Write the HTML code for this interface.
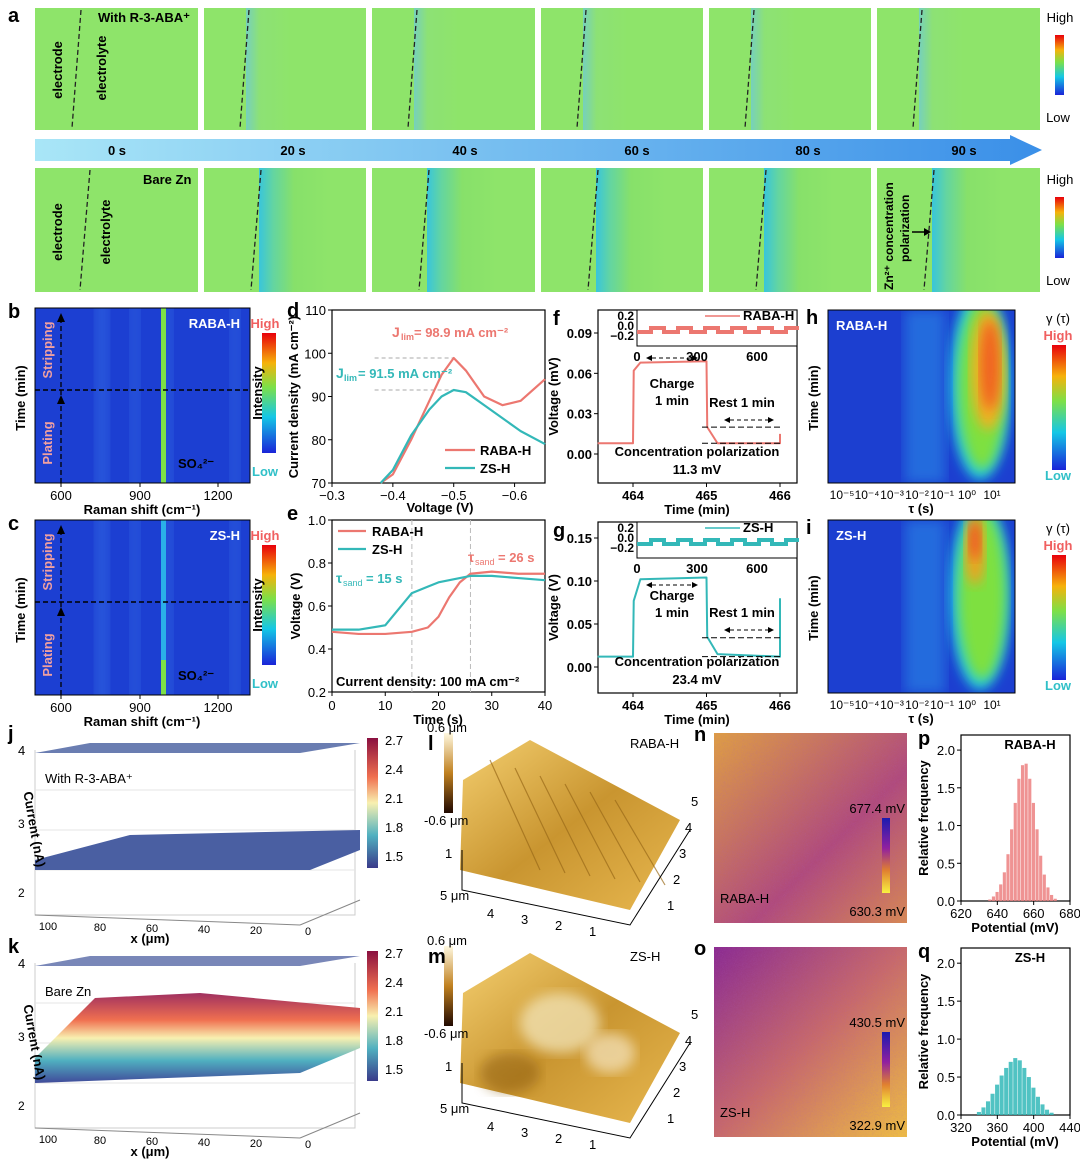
<!DOCTYPE html>
<html><head><meta charset="utf-8"><style>
body{margin:0;background:#fff;font-family:"Liberation Sans",sans-serif}
svg text{font-family:"Liberation Sans","Noto Sans CJK SC",sans-serif}
</style></head><body>
<svg id="fig" width="1080" height="1159" viewBox="0 0 1080 1159" xmlns="http://www.w3.org/2000/svg">
<defs>
<linearGradient id="arrowg" x1="0" x2="1"><stop offset="0" stop-color="#a9e6f7"/><stop offset="1" stop-color="#3a8fe8"/></linearGradient>
<linearGradient id="cb1" x1="0" y1="0" x2="0" y2="1"><stop offset="0" stop-color="#e8000b"/><stop offset=".25" stop-color="#f6b20a"/><stop offset=".45" stop-color="#7de048"/><stop offset=".7" stop-color="#14c7e6"/><stop offset="1" stop-color="#1a24d8"/></linearGradient>
<linearGradient id="tileT" x1="0" x2="1"><stop offset="0" stop-color="#6cc8e0"/><stop offset=".3" stop-color="#8ce07a"/><stop offset="1" stop-color="#8ee46a"/></linearGradient>
<linearGradient id="tileB" x1="0" x2="1"><stop offset="0" stop-color="#2fc2e8"/><stop offset=".2" stop-color="#5ed3a8"/><stop offset=".5" stop-color="#86e06a"/><stop offset="1" stop-color="#8ee46a"/></linearGradient>
<linearGradient id="afm" x1="0" y1="0" x2="1" y2="1"><stop offset="0" stop-color="#f4cf70"/><stop offset=".5" stop-color="#c99530"/><stop offset="1" stop-color="#e8b850"/></linearGradient>
<linearGradient id="afmcb" x1="0" y1="0" x2="0" y2="1"><stop offset="0" stop-color="#fff8e0"/><stop offset=".5" stop-color="#c08020"/><stop offset="1" stop-color="#200800"/></linearGradient>
<linearGradient id="kpfmcb" x1="0" y1="0" x2="0" y2="1"><stop offset="0" stop-color="#1a1ab0"/><stop offset=".4" stop-color="#9020a0"/><stop offset=".7" stop-color="#e08030"/><stop offset="1" stop-color="#f8f040"/></linearGradient>
<linearGradient id="nMap" x1="0" y1="0" x2="1" y2="1"><stop offset="0" stop-color="#e0a040"/><stop offset=".6" stop-color="#b04a7a"/><stop offset="1" stop-color="#d88a50"/></linearGradient>
<linearGradient id="oMap" x1="0" y1="0" x2="1" y2="1"><stop offset="0" stop-color="#8a2a90"/><stop offset=".5" stop-color="#c86a68"/><stop offset="1" stop-color="#f0c040"/></linearGradient>
<linearGradient id="sfk" x1="0" y1="0" x2="0" y2="1"><stop offset="0" stop-color="#a03060"/><stop offset=".3" stop-color="#f07050"/><stop offset=".5" stop-color="#f8f0b0"/><stop offset=".75" stop-color="#50b0c0"/><stop offset="1" stop-color="#404a9a"/></linearGradient>
<linearGradient id="cb3d" x1="0" y1="0" x2="0" y2="1"><stop offset="0" stop-color="#8a1040"/><stop offset=".3" stop-color="#f07050"/><stop offset=".5" stop-color="#f8f0b0"/><stop offset=".75" stop-color="#50b0c0"/><stop offset="1" stop-color="#3a3a8a"/></linearGradient>
<filter id="blur"><feGaussianBlur stdDeviation="6"/></filter>
<filter id="noise"><feTurbulence baseFrequency=".9" numOctaves="1" seed="3"/><feColorMatrix values="0 0 0 0 .4  0 0 0 0 .1  0 0 0 0 .5  0 0 0 .35 0"/><feComposite in2="SourceGraphic" operator="in"/></filter>
<clipPath id="clipb"><rect x="35" y="308" width="215" height="175"/></clipPath>
<clipPath id="clipc"><rect x="35" y="520" width="215" height="175"/></clipPath>
<clipPath id="cliph"><rect x="828" y="310" width="187" height="173"/></clipPath>
<clipPath id="clipi"><rect x="828" y="520" width="187" height="173"/></clipPath>
</defs>
<g id="root"></g>
</svg>
<script>
// ---- chart data ----
const dVolt=[-0.38,-0.40,-0.43,-0.46,-0.48,-0.50,-0.52,-0.55,-0.58,-0.61,-0.65];
const dRaba=[70,72,80,89,95,98.9,96,90,88,89,94];
const dZs=[70,73,81,87,90,91.5,91,88,85,82,79];
const eTime=[0,5,10,15,18,20,22,24,26,30,35,40];
const eRaba=[0.48,0.47,0.47,0.48,0.50,0.55,0.64,0.71,0.75,0.76,0.75,0.75];
const eZs=[0.49,0.49,0.51,0.66,0.69,0.71,0.72,0.73,0.74,0.74,0.73,0.72];
const fTime=[463.52,464.0,464.01,464.1,465.0,465.01,465.15,466.0,466.0];
const fVolt=[0.008,0.008,0.062,0.068,0.069,0.020,0.008,0.008,0.015];
const gVolt=[0.012,0.012,0.077,0.102,0.104,0.035,0.015,0.012,0.080];
const pPot=[636,638,640,642,644,646,648,650,652,654,656,658,660,662,664,666,668,670,672];
const pFreq=[0.02,0.06,0.12,0.22,0.38,0.62,0.95,1.30,1.62,1.80,1.82,1.62,1.30,0.95,0.60,0.35,0.18,0.08,0.03];
const qPot=[340,345,350,355,360,365,370,375,380,385,390,395,400,405,410,415,420];
const qFreq=[0.04,0.10,0.18,0.28,0.40,0.52,0.62,0.70,0.75,0.72,0.62,0.50,0.36,0.24,0.14,0.07,0.03];

const NS='http://www.w3.org/2000/svg';
const root=document.getElementById('root');
function el(tag,attrs,parent,txt){const e=document.createElementNS(NS,tag);for(const k in attrs)e.setAttribute(k,attrs[k]);if(txt!==undefined)e.textContent=txt;(parent||root).appendChild(e);return e;}
function T(x,y,s,o){o=o||{};const t=el('text',Object.assign({x:x,y:y,'font-size':o.fs||13,fill:o.fill||'#000','font-weight':o.fw||'bold','text-anchor':o.a||'start'},o.tr?{transform:o.tr}:{}),o.p,s);

return t;}
function lin(d0,d1,p0,p1){return v=>p0+(v-d0)*(p1-p0)/(d1-d0);}

// ---- panel a ----
const tx=[[35,198],[204,366],[372,535],[541,703],[709,871],[877,1040]];
const times=['0 s','20 s','40 s','60 s','80 s','90 s'];
[[8,130,'tileT'],[168,292,'tileB']].forEach((row,ri)=>{
 tx.forEach((t,i)=>{
  const g=el('g',{});
  
  
  el('rect',{x:t[0],y:row[0],width:t[1]-t[0],height:row[1]-row[0],fill:'#8ee46a'},g);
  const lx=i==0?(ri?88:78):t[0]+(ri?55:42);
  if(i>0)el('rect',{x:lx,y:row[0],width:(ri?70:45),height:row[1]-row[0],fill:ri?'url(#tileB)':'url(#tileT)',opacity:ri?.9:.7},g);
  el('line',{x1:lx+(ri?2:3),y1:row[0]+2,x2:lx-(ri?8:6),y2:row[1]-2,stroke:'#222','stroke-width':1.3,'stroke-dasharray':'5,3'},g);
 });
});
T(98,22,'With R-3-ABA⁺',{name:'label-with-r3aba'});T(143,184,'Bare Zn',{name:'label-bare-zn'});
T(62,70,'electrode',{a:'middle',tr:'rotate(-90 62 70)',name:'label-electrode'});T(106,68,'electrolyte',{a:'middle',tr:'rotate(-90 106 68)',name:'label-electrolyte'});
T(62,232,'electrode',{a:'middle',tr:'rotate(-90 62 232)',name:'label-electrode'});T(110,232,'electrolyte',{a:'middle',tr:'rotate(-90 110 232)',name:'label-electrolyte'});
T(893,290,'Zn²⁺ concentration',{fs:12,tr:'rotate(-90 893 290)'});T(909,262,'polarization',{fs:12,tr:'rotate(-90 909 262)'});
el('line',{x1:912,y1:232,x2:926,y2:232,stroke:'#000','stroke-width':1.5});el('path',{d:'M924 228 L931 232 L924 236Z'});
el('path',{d:'M35 139 H1010 V135 L1042 150 L1010 165 V161 H35 Z',fill:'url(#arrowg)'});
times.forEach((s,i)=>T([117,293,465,637,808,964][i],155,s,{a:'middle',name:'time-label'}));
T(8,22,'a',{fs:20});
[[35,95],[197,258]].forEach(c=>{el('rect',{x:1055,y:c[0],width:9,height:c[1]-c[0],fill:'url(#cb1)'});T(1060,c[0]-13,'High',{fs:13,fw:'normal',a:'middle'});T(1058,c[1]+27,'Low',{fs:13,fw:'normal',a:'middle'});});

// ---- b, c heatmaps ----
function raman(y0,lab,letter){
 const x0=35,x1=250,y1=y0+175;
 const g=el('g',{'clip-path':letter=='b'?'url(#clipb)':'url(#clipc)'});
 el('rect',{x:x0,y:y0,width:x1-x0,height:175,fill:'#1c3fd2'},g);
 [[60,14],[95,10],[128,10],[195,10],[215,10]].forEach(b=>el('rect',{x:x0+b[0],y:y0-20,width:b[1],height:215,fill:'#3a78e8',opacity:.45,filter:'url(#blur)'},g));
 el('rect',{x:161,y:y0,width:5,height:175,fill:letter=='b'?'#7de048':'#2ab0e8'},g);
 if(letter=='c')el('rect',{x:161,y:y0+140,width:5,height:35,fill:'#7de048'},g);
 el('line',{x1:x0,y1:y0+82,x2:x1,y2:y0+82,stroke:'#000','stroke-dasharray':'5,3','stroke-width':1.5});
 el('line',{x1:61,y1:y1,x2:61,y2:y0+8,stroke:'#000','stroke-dasharray':'5,3','stroke-width':1.3});
 el('path',{d:`M57 ${y0+14} L61 ${y0+5} L65 ${y0+14}Z`});el('path',{d:`M57 ${y0+96} L61 ${y0+87} L65 ${y0+96}Z`});
 el('rect',{x:x0,y:y0,width:x1-x0,height:175,fill:'none',stroke:'#000'});
 T(52,y0+42,'Stripping',{fill:'#f0a0a0',a:'middle',tr:`rotate(-90 52 ${y0+42})`});T(52,y0+135,'Plating',{fill:'#f0a0a0',a:'middle',tr:`rotate(-90 52 ${y0+135})`});
 T(240,y0+20,lab,{fill:'#fff',a:'end'});T(178,y0+160,'SO₄²⁻',{});
 [600,900,1200].forEach((v,i)=>{const x=[61,140,218][i];el('line',{x1:x,y1:y1,x2:x,y2:y1+4,stroke:'#000'});T(x,y1+17,v,{a:'middle',fw:'normal'});});
 T(142,y1+31,'Raman shift (cm⁻¹)',{a:'middle'});T(25,y0+90,'Time (min)',{a:'middle',tr:`rotate(-90 25 ${y0+90})`});
 T(8,y0+10,letter,{fs:20});
 el('rect',{x:262,y:y0+25,width:14,height:120,fill:'url(#cb1)'});
 T(265,y0+20,'High',{fill:'#f06060',a:'middle'});T(265,y0+168,'Low',{fill:'#30c0c8',a:'middle'});
 T(262,y0+85,'Intensity',{a:'middle',tr:`rotate(-90 262 ${y0+85})`});
}
raman(308,'RABA-H','b');raman(520,'ZS-H','c');

// ---- d ----
function frame(x0,y0,x1,y1){el('rect',{x:x0,y:y0,width:x1-x0,height:y1-y0,fill:'none',stroke:'#000','stroke-width':1.2});}
function poly(xs,ys,fx,fy,clr,w,name){const p=el('polyline',{points:xs.map((v,i)=>fx(v)+','+fy(ys[i])).join(' '),fill:'none',stroke:clr,'stroke-width':w||2.2,'stroke-linejoin':'round'});

return p;}
{const fx=lin(-0.3,-0.65,332,545),fy=lin(70,110,483,310);
 frame(332,310,545,483);
 el('line',{x1:fx(-0.37),y1:fy(98.9),x2:fx(-0.5),y2:fy(98.9),stroke:'#aaa','stroke-dasharray':'4,3'});
 el('line',{x1:fx(-0.37),y1:fy(91.5),x2:fx(-0.5),y2:fy(91.5),stroke:'#aaa','stroke-dasharray':'4,3'});
 poly(dVolt,dRaba,fx,fy,'#ec7770',2.2,'raba-h-line');poly(dVolt,dZs,fx,fy,'#33b8b8',2.2,'zs-h-line');
 [-0.3,-0.4,-0.5,-0.6].forEach(v=>{el('line',{x1:fx(v),y1:483,x2:fx(v),y2:487,stroke:'#000'});T(fx(v),500,v.toFixed(1).replace('-','−'),{a:'middle',fw:'normal'});});
 [70,80,90,100,110].forEach(v=>{el('line',{x1:328,y1:fy(v),x2:332,y2:fy(v),stroke:'#000'});T(326,fy(v)+5,v,{a:'end',fw:'normal'});});
 T(440,512,'Voltage (V)',{a:'middle'});T(298,397,'Current density (mA cm⁻²)',{a:'middle',tr:'rotate(-90 298 397)'});
 T(392,337,'J',{fill:'#ec7770',fs:14});T(401,340,'lim',{fill:'#ec7770',fs:9});T(414,337,'= 98.9 mA cm⁻²',{fill:'#ec7770',fs:13});
 T(336,378,'J',{fill:'#33b8b8',fs:14});T(344,381,'lim',{fill:'#33b8b8',fs:9});T(358,378,'= 91.5 mA cm⁻²',{fill:'#33b8b8',fs:13});
 el('line',{x1:445,y1:450,x2:475,y2:450,stroke:'#ec7770','stroke-width':2.2});T(480,455,'RABA-H',{});
 el('line',{x1:445,y1:468,x2:475,y2:468,stroke:'#33b8b8','stroke-width':2.2});T(480,473,'ZS-H',{});
 T(287,317,'d',{fs:20});}

// ---- e ----
{const fx=lin(0,40,332,545),fy=lin(0.2,1.0,692,520);
 frame(332,520,545,692);
 [15,26].forEach(v=>el('line',{x1:fx(v),y1:520,x2:fx(v),y2:692,stroke:'#bbb','stroke-dasharray':'5,3'}));
 poly(eTime,eRaba,fx,fy,'#ec7770',2.2,'raba-h-line');poly(eTime,eZs,fx,fy,'#33b8b8',2.2,'zs-h-line');
 [0,10,20,30,40].forEach(v=>{el('line',{x1:fx(v),y1:692,x2:fx(v),y2:696,stroke:'#000'});T(fx(v),710,v,{a:'middle',fw:'normal'});});
 [0.2,0.4,0.6,0.8,1.0].forEach(v=>{el('line',{x1:328,y1:fy(v),x2:332,y2:fy(v),stroke:'#000'});T(326,fy(v)+5,v.toFixed(1),{a:'end',fw:'normal'});});
 T(438,724,'Time (s)',{a:'middle'});T(300,606,'Voltage (V)',{a:'middle',tr:'rotate(-90 300 606)'});
 el('line',{x1:338,y1:531,x2:366,y2:531,stroke:'#ec7770','stroke-width':2.2});T(372,536,'RABA-H',{});
 el('line',{x1:338,y1:549,x2:366,y2:549,stroke:'#33b8b8','stroke-width':2.2});T(372,554,'ZS-H',{});
 T(336,583,'τ',{fill:'#33b8b8',fs:14});T(343,586,'sand',{fill:'#33b8b8',fs:9,fw:'normal'});T(366,583,'= 15 s',{fill:'#33b8b8'});
 T(468,562,'τ',{fill:'#ec7770',fs:14});T(475,565,'sand',{fill:'#ec7770',fs:9,fw:'normal'});T(498,562,'= 26 s',{fill:'#ec7770'});
 T(336,686,'Current density: 100 mA cm⁻²',{});
 T(287,520,'e',{fs:20});}

// ---- f, g ----
function vt(y0,y1,fy,ticks,dec,vals,clr,cp,letter,insetLab,ly,dash,ytitle){
 const fx=lin(464,466,633,780);
 frame(598,y0,797,y1);
 poly(fTime,vals,fx,fy,clr,2,letter+'-voltage-line');
 el('line',{x1:652,y1:ly[0],x2:692,y2:ly[0],stroke:'#000','stroke-dasharray':'4,3'});
 el('path',{d:`M652 ${ly[0]-3} L646 ${ly[0]} L652 ${ly[0]+3}Z`});el('path',{d:`M692 ${ly[0]-3} L698 ${ly[0]} L692 ${ly[0]+3}Z`});
 T(672,ly[1],'Charge',{a:'middle'});T(672,ly[1]+17,'1 min',{a:'middle'});
 T(742,ly[2],'Rest 1 min',{a:'middle'});
 el('line',{x1:730,y1:ly[2]+13,x2:768,y2:ly[2]+13,stroke:'#000','stroke-dasharray':'4,3'});
 el('path',{d:`M730 ${ly[2]+10} L724 ${ly[2]+13} L730 ${ly[2]+16}Z`});el('path',{d:`M768 ${ly[2]+10} L774 ${ly[2]+13} L768 ${ly[2]+16}Z`});
 dash.forEach(v=>el('line',{x1:702,y1:fy(v),x2:782,y2:fy(v),stroke:'#000','stroke-dasharray':'6,3'}));
 T(697,y1-27,'Concentration polarization',{a:'middle'});T(697,y1-9,cp,{a:'middle'});
 ticks.forEach(v=>{el('line',{x1:594,y1:fy(v),x2:598,y2:fy(v),stroke:'#000'});T(592,fy(v)+5,v.toFixed(dec),{a:'end'});});
 [464,465,466].forEach(v=>{el('line',{x1:fx(v),y1:y1,x2:fx(v),y2:y1+4,stroke:'#000'});T(fx(v),y1+17,v,{a:'middle'});});
 T(697,y1+31,'Time (min)',{a:'middle'});T(558,(y0+y1)/2,ytitle,{a:'middle',tr:`rotate(-90 558 ${(y0+y1)/2})`});
 const iy0=y0,iy1=y0+36;
 el('rect',{x:637,y:iy0,width:160,height:iy1-iy0,fill:'#fff',stroke:'#000'});
 const ip=[];for(let k=0;k<6;k++){const x=637+k*27;ip.push(`${x},${iy0+22} ${x+14},${iy0+22} ${x+14},${iy0+18} ${x+27},${iy0+18}`);}
 el('polyline',{points:ip.join(' '),fill:'none',stroke:clr,'stroke-width':4});
 el('line',{x1:705,y1:iy0+6,x2:740,y2:iy0+6,stroke:clr,'stroke-width':1.5});T(743,iy0+10,insetLab,{});
 [['0.2',6],['0.0',16],['−0.2',26]].forEach(a=>T(634,iy0+a[1]+4,a[0],{a:'end',fs:12}));
 [[0,637],[300,697],[600,757]].forEach(a=>T(a[1],iy1+15,a[0],{a:'middle'}));
 T(553,y0+15,letter,{fs:20});
}
vt(310,483,lin(0,0.09,454,333),[0,0.03,0.06,0.09],2,fVolt,'#ec7770','11.3 mV','f','RABA-H',[358,388,407],[0.02,0.008],'Voltage (mV)');
vt(522,693,lin(0,0.15,667,538),[0,0.05,0.10,0.15],2,gVolt,'#33b8b8','23.4 mV','g','ZS-H',[585,600,617],[0.034,0.012],'Voltage (V)');

// ---- h, i ----
function drt(y0,lab,letter,red){
 const x0=828,x1=1015,y1=y0+173;
 const g=el('g',{'clip-path':letter=='h'?'url(#cliph)':'url(#clipi)'});
 el('rect',{x:x0,y:y0,width:x1-x0,height:173,fill:'#1c3fd0'},g);
 el('rect',{x:905,y:y0,width:40,height:173,fill:'#2a90e8',opacity:.55,filter:'url(#blur)'},g);
 el('ellipse',{cx:980,cy:y0+75,rx:30,ry:95,fill:'#20d0e0',filter:'url(#blur)'},g);
 el('ellipse',{cx:982,cy:y0+75,rx:24,ry:85,fill:'#7ee040',filter:'url(#blur)'},g);
 if(red){el('ellipse',{cx:988,cy:y0+60,rx:17,ry:60,fill:'#f0b020',filter:'url(#blur)'},g);el('ellipse',{cx:990,cy:y0+55,rx:10,ry:45,fill:'#f05020',opacity:.8,filter:'url(#blur)'},g);}
 else{el('ellipse',{cx:975,cy:y0+30,rx:10,ry:35,fill:'#f0a020',filter:'url(#blur)'},g);el('ellipse',{cx:975,cy:y0+20,rx:6,ry:20,fill:'#f04020',opacity:.8,filter:'url(#blur)'},g);}
 el('rect',{x:x0,y:y0,width:x1-x0,height:173,fill:'none',stroke:'#000'});
 T(836,y0+20,lab,{fill:'#fff'});
 const labs=['10⁻⁵','10⁻⁴','10⁻³','10⁻²','10⁻¹','10⁰','10¹'];labs.forEach((s,i)=>T(842+i*25,y1+16,s,{a:'middle',fw:'normal',fs:12}));
 T(921,y1+30,'τ (s)',{a:'middle'});T(818,y0+88,'Time (min)',{a:'middle',tr:`rotate(-90 818 ${y0+88})`});
 T(806,y0+14,letter,{fs:20});
 T(1058,y0+13,'γ (τ)',{a:'middle',fw:'normal'});T(1058,y0+30,'High',{fill:'#f06060',a:'middle'});
 el('rect',{x:1052,y:y0+35,width:14,height:125,fill:'url(#cb1)'});T(1058,y1-3,'Low',{fill:'#30c0c8',a:'middle'});
}
drt(310,'RABA-H','h',true);drt(520,'ZS-H','i',false);

// ---- j, k 3D ----
function surf(y0,letter,lab,bare){
 const g=el('g',{});
 el('polyline',{points:`35,${y0+15} 35,${y0+180} 355,${y0+180} 355,${y0+15}`,fill:'none',stroke:'#ccc'},g);
 for(let k=1;k<4;k++)el('line',{x1:35,y1:y0+15+k*40,x2:355,y2:y0+15+k*40,stroke:'#e4e4e4'},g);
 el('polygon',{points:`35,${y0+18} 90,${y0+8} 360,${y0+8} 300,${y0+18}`,fill:bare?'#6a7ab0':'#5a6fa8',opacity:.9},g);
 if(!bare){el('path',{d:`M35 ${y0+125} L130 ${y0+100} L360 ${y0+95} L360 ${y0+115} L310 ${y0+135} L35 ${y0+135}Z`,fill:'#4a5fa2'},g);}
 else{el('path',{d:`M35 ${y0+110} L95 ${y0+50} L200 ${y0+45} L360 ${y0+60} L360 ${y0+100} L300 ${y0+125} L35 ${y0+135}Z`,fill:'url(#sfk)'},g);}
 el('line',{x1:35,y1:y0+180,x2:300,y2:y0+190,stroke:'#888'},g);el('line',{x1:300,y1:y0+190,x2:360,y2:y0+165,stroke:'#888'},g);
 T(45,y0+48,lab,{fw:'normal'});
 T(18,y0+20,'4',{fw:'normal'});T(18,y0+93,'3',{fw:'normal',fs:12});T(18,y0+162,'2',{fw:'normal',fs:12});
 T(30,y0+95,'Current (nA)',{a:'middle',fw:'bold',tr:`rotate(80 30 ${y0+95})`,fs:13});
 ['100','80','60','40','20','0'].forEach((s,i)=>T(48+i*52,y0+195+i*1,s,{fs:11,fw:'normal',a:'middle'}));
 T(150,y0+208,'x (μm)',{a:'middle'});
 el('rect',{x:367,y:y0+3,width:11,height:130,fill:'url(#cb3d)'},g);
 ['2.7','2.4','2.1','1.8','1.5'].forEach((s,i)=>T(385,y0+10+i*29,s,{fw:'normal'}));
 T(8,y0+5,letter,{fs:20});
}
surf(735,'j','With R-3-ABA⁺',false);surf(948,'k','Bare Zn',true);

// ---- l, m AFM ----
function afm(y0,letter,lab,rough){
 el('polygon',{points:`463,${y0+40} 530,${y0} 680,${y0+80} 630,${y0+170} 460,${y0+130}`,fill:'url(#afm)'});
 if(rough){el('ellipse',{cx:560,cy:y0+70,rx:40,ry:30,fill:'#f0e0b0',opacity:.8,filter:'url(#blur)'});el('ellipse',{cx:610,cy:y0+100,rx:25,ry:20,fill:'#f4e4c0',opacity:.7,filter:'url(#blur)'});el('ellipse',{cx:510,cy:y0+120,rx:30,ry:20,fill:'#8a5a10',opacity:.5,filter:'url(#blur)'});}
 else for(let k=0;k<6;k++)el('line',{x1:490+k*25,y1:y0+20+k*8,x2:540+k*25,y2:y0+130+k*3,stroke:'#9a6a18','stroke-width':1.2,opacity:.7});
 el('rect',{x:444,y:y0-7,width:9,height:80,fill:'url(#afmcb)'});
 T(427,y0-8,'0.6 μm',{fw:'normal'});T(424,y0+85,'-0.6 μm',{fw:'normal'});
 T(630,y0+8,lab,{fw:'normal',a:'start'});T(428,y0+10,letter,{fs:20});
 el('polyline',{points:`462,${y0+110} 462,${y0+150} 630,${y0+185} 690,${y0+90}`,fill:'none',stroke:'#000'});
 T(445,y0+118,'1',{fw:'normal'});T(440,y0+160,'5 μm',{fw:'normal'});
 ['4','3','2','1'].forEach((s,i)=>T(487+i*34,y0+178+i*6,s,{fw:'normal'}));
 ['1','2','3','4','5'].forEach((s,i)=>T(667+i*6,y0+170-i*26,s,{fw:'normal'}));
}
afm(740,'l','RABA-H',false);afm(953,'m','ZS-H',true);

// ---- n, o KPFM ----
function kpfm(y0,letter,lab,fill,hi,lo){
 el('rect',{x:714,y:y0,width:193,height:190,fill:fill});
 el('rect',{x:714,y:y0,width:193,height:190,fill:'#fff',filter:'url(#noise)'});
 el('rect',{x:882,y:y0+85,width:8,height:75,fill:'url(#kpfmcb)'});
 T(905,y0+80,hi,{fw:'normal',a:'end'});T(905,y0+183,lo,{fw:'normal',a:'end'});
 T(720,y0+170,lab,{fw:'normal'});T(694,y0+8,letter,{fs:20});
}
kpfm(733,'n','RABA-H','url(#nMap)','677.4 mV','630.3 mV');kpfm(947,'o','ZS-H','url(#oMap)','430.5 mV','322.9 mV');

// ---- p, q histograms ----
function hist(y0,y1,xmin,xmax,xt,vals,freq,clr,lab,letter,bw){
 const fx=lin(xmin,xmax,961,1070),fy=lin(0,2.2,y1,y0);
 frame(961,y0,1070,y1);
 vals.forEach((v,i)=>{const b=el('rect',{x:fx(v-bw/2),y:fy(freq[i]),width:Math.max(1,fx(v+bw/2)-fx(v-bw/2)-0.5),height:y1-fy(freq[i]),fill:clr,opacity:.85});
 
 });
 [0,0.5,1.0,1.5,2.0].forEach(v=>{el('line',{x1:957,y1:fy(v),x2:961,y2:fy(v),stroke:'#000'});T(955,fy(v)+5,v.toFixed(1),{a:'end',fw:'normal'});});
 xt.forEach(v=>{el('line',{x1:fx(v),y1:y1,x2:fx(v),y2:y1+4,stroke:'#000'});T(fx(v),y1+17,v,{a:'middle',fw:'normal'});});
 T(1015,y1+31,'Potential (mV)',{a:'middle'});T(928,(y0+y1)/2,'Relative frequency',{a:'middle',tr:`rotate(-90 928 ${(y0+y1)/2})`});
 T(1030,y0+14,lab,{a:'middle'});T(918,y0+10,letter,{fs:20});
}
hist(735,901,620,680,[620,640,660,680],pPot,pFreq,'#ec8080','RABA-H','p',2);
hist(948,1115,320,440,[320,360,400,440],qPot,qFreq,'#33b8b8','ZS-H','q',5);
</script>
</body></html>
